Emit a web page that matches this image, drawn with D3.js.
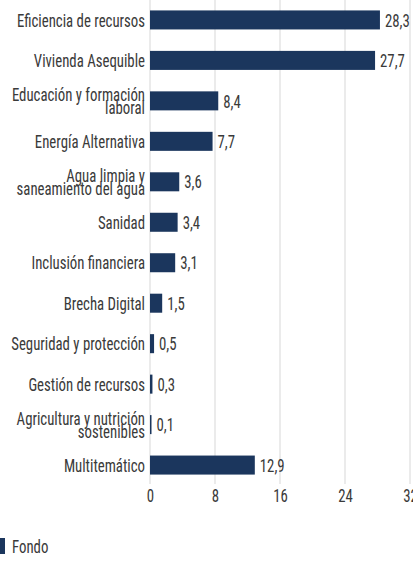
<!DOCTYPE html>
<html><head><meta charset="utf-8">
<script src="https://cdn.jsdelivr.net/npm/d3@7"></script>
<style>
body{margin:0;background:#fff;}
text{font-family:"Roboto Condensed",Roboto,sans-serif;font-stretch:condensed;fill:#3a3a3a;}
</style></head><body>
<svg id="c" width="413" height="561"></svg>
<script>
const categories = ["Eficiencia de recursos","Vivienda Asequible","Educación y formación|laboral","Energía Alternativa","Agua limpia y|saneamiento del agua","Sanidad","Inclusión financiera","Brecha Digital","Seguridad y protección","Gestión de recursos","Agricultura y nutrición|sostenibles","Multitemático"];
const values = [28.3,27.7,8.4,7.7,3.6,3.4,3.1,1.5,0.5,0.3,0.1,12.9];
const ticks = [0,8,16,24,32];
const seriesName = "Fondo";

const FS = 19, SX = 0.78;
const svg = d3.select("#c");
const x = d3.scaleLinear().domain([0,32]).range([150,410]);
const y = d3.scaleBand().domain(categories).range([-0.5,485.5]).paddingInner(0.53).paddingOuter(0.27);
const color = "#1b365d";
const fmt = v => d3.format(".1f")(v).replace(".", ",");

function label(g, px, py, str, anchor){
  const gg = g.append("g").attr("transform",`translate(${px},${py}) scale(${SX},1)`);
  const parts = str.split("|");
  const t = gg.append("text").attr("text-anchor",anchor).attr("font-size",FS);
  parts.forEach((p,j)=>{
    t.append("tspan").attr("x",0).attr("y",(j-(parts.length-1)/2)*12.5).attr("dy","0.35em").text(p);
  });
  return t;
}

// grid
svg.append("g").selectAll("line").data(ticks).join("line")
  .attr("x1",d=>x(d)).attr("x2",d=>x(d)).attr("y1",0).attr("y2",484)
  .attr("stroke","#ebebeb").attr("stroke-width",2);

// axis labels
const ax = d3.axisBottom(x).tickValues(ticks).tickSize(0).tickPadding(0);
const gA = svg.append("g").attr("transform","translate(0,488.5)").call(ax);
gA.select(".domain").remove();
gA.selectAll("text").attr("font-size",FS).attr("fill","#3a3a3a").attr("dy","0.71em")
  .attr("transform",`scale(${SX},1)`)
  .style("font-family",'"Roboto Condensed",Roboto,sans-serif');

// bars
svg.append("g").selectAll("rect").data(values).join("rect")
  .attr("x",x(0)).attr("y",(d,i)=>y(categories[i]))
  .attr("width",d=>Math.max(1.5,x(d)-x(0))).attr("height",y.bandwidth())
  .attr("fill",color);

// value labels
const gV = svg.append("g");
values.forEach((v,i)=>{
  label(gV, Math.max(x(0)+1.5,x(v))+5, y(categories[i])+y.bandwidth()/2, fmt(v), "start");
});

// category labels
const gC = svg.append("g");
categories.forEach(c=>{
  label(gC, 145, y(c)+y.bandwidth()/2, c, "end");
});

// legend
svg.append("rect").attr("x",0).attr("y",538).attr("width",5).attr("height",16).attr("fill",color);
label(svg, 12, 546, seriesName, "start");
</script>
</body></html>
